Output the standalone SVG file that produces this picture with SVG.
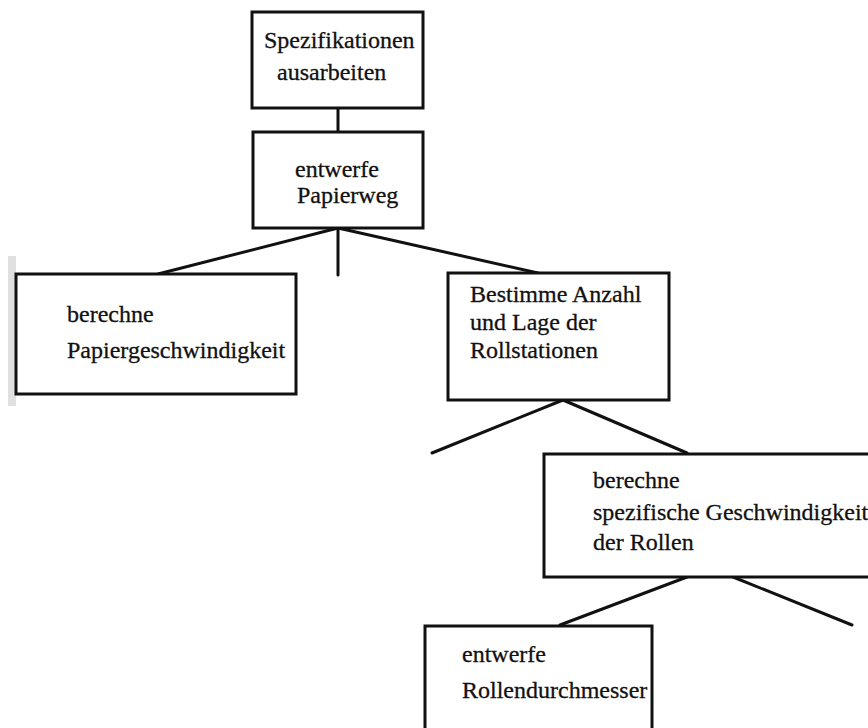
<svg xmlns="http://www.w3.org/2000/svg" width="868" height="728" viewBox="0 0 868 728">
  <style>
    .box { fill: #ffffff; stroke: #111111; stroke-width: 3; }
    .edge { stroke: #111111; stroke-width: 3; fill: none; stroke-linecap: round; }
    .label { font-family: "Liberation Serif", "DejaVu Serif", serif; font-size: 24px; fill: #111111; stroke: #111111; stroke-width: 0.3; }
  </style>
  <rect width="868" height="728" fill="#ffffff"/>
  <!-- faint grey strip along the left margin -->
  <rect x="8" y="256" width="8" height="150" fill="#d8d8d8" opacity="0.8"/>

  <g id="connectors">
    <line class="edge" x1="338" y1="108" x2="338" y2="132"/>
    <line class="edge" x1="338" y1="228" x2="338" y2="275"/>
    <line class="edge" x1="338" y1="228" x2="158" y2="274"/>
    <line class="edge" x1="338" y1="228" x2="538" y2="273"/>
    <line class="edge" x1="563" y1="400" x2="432" y2="453"/>
    <line class="edge" x1="563" y1="400" x2="687" y2="453"/>
    <line class="edge" x1="687" y1="577" x2="560" y2="625"/>
    <line class="edge" x1="733" y1="577" x2="852" y2="625"/>
  </g>

  <g id="spezifikationen">
    <rect class="box" x="252" y="12" width="171" height="96"/>
    <text class="label" x="264" y="48">Spezifikationen</text>
    <text class="label" x="277" y="80">ausarbeiten</text>
  </g>

  <g id="papierweg">
    <rect class="box" x="253" y="132" width="170" height="96"/>
    <text class="label" x="295" y="177">entwerfe</text>
    <text class="label" x="297" y="203">Papierweg</text>
  </g>

  <g id="papiergeschwindigkeit">
    <rect class="box" x="16" y="274" width="280" height="120"/>
    <text class="label" x="67" y="322">berechne</text>
    <text class="label" x="67" y="358">Papiergeschwindigkeit</text>
  </g>

  <g id="rollstationen">
    <rect class="box" x="448" y="273" width="221" height="127"/>
    <text class="label" x="470" y="302">Bestimme Anzahl</text>
    <text class="label" x="470" y="330">und Lage der</text>
    <text class="label" x="470" y="358">Rollstationen</text>
  </g>

  <g id="rollengeschwindigkeit">
    <rect class="box" x="544" y="454" width="340" height="123"/>
    <text class="label" x="593" y="488">berechne</text>
    <text class="label" x="593" y="520">spezifische Geschwindigkeit</text>
    <text class="label" x="593" y="550">der Rollen</text>
  </g>

  <g id="rollendurchmesser">
    <rect class="box" x="425" y="626" width="227" height="120"/>
    <text class="label" x="462" y="662">entwerfe</text>
    <text class="label" x="462" y="698">Rollendurchmesser</text>
  </g>
</svg>
